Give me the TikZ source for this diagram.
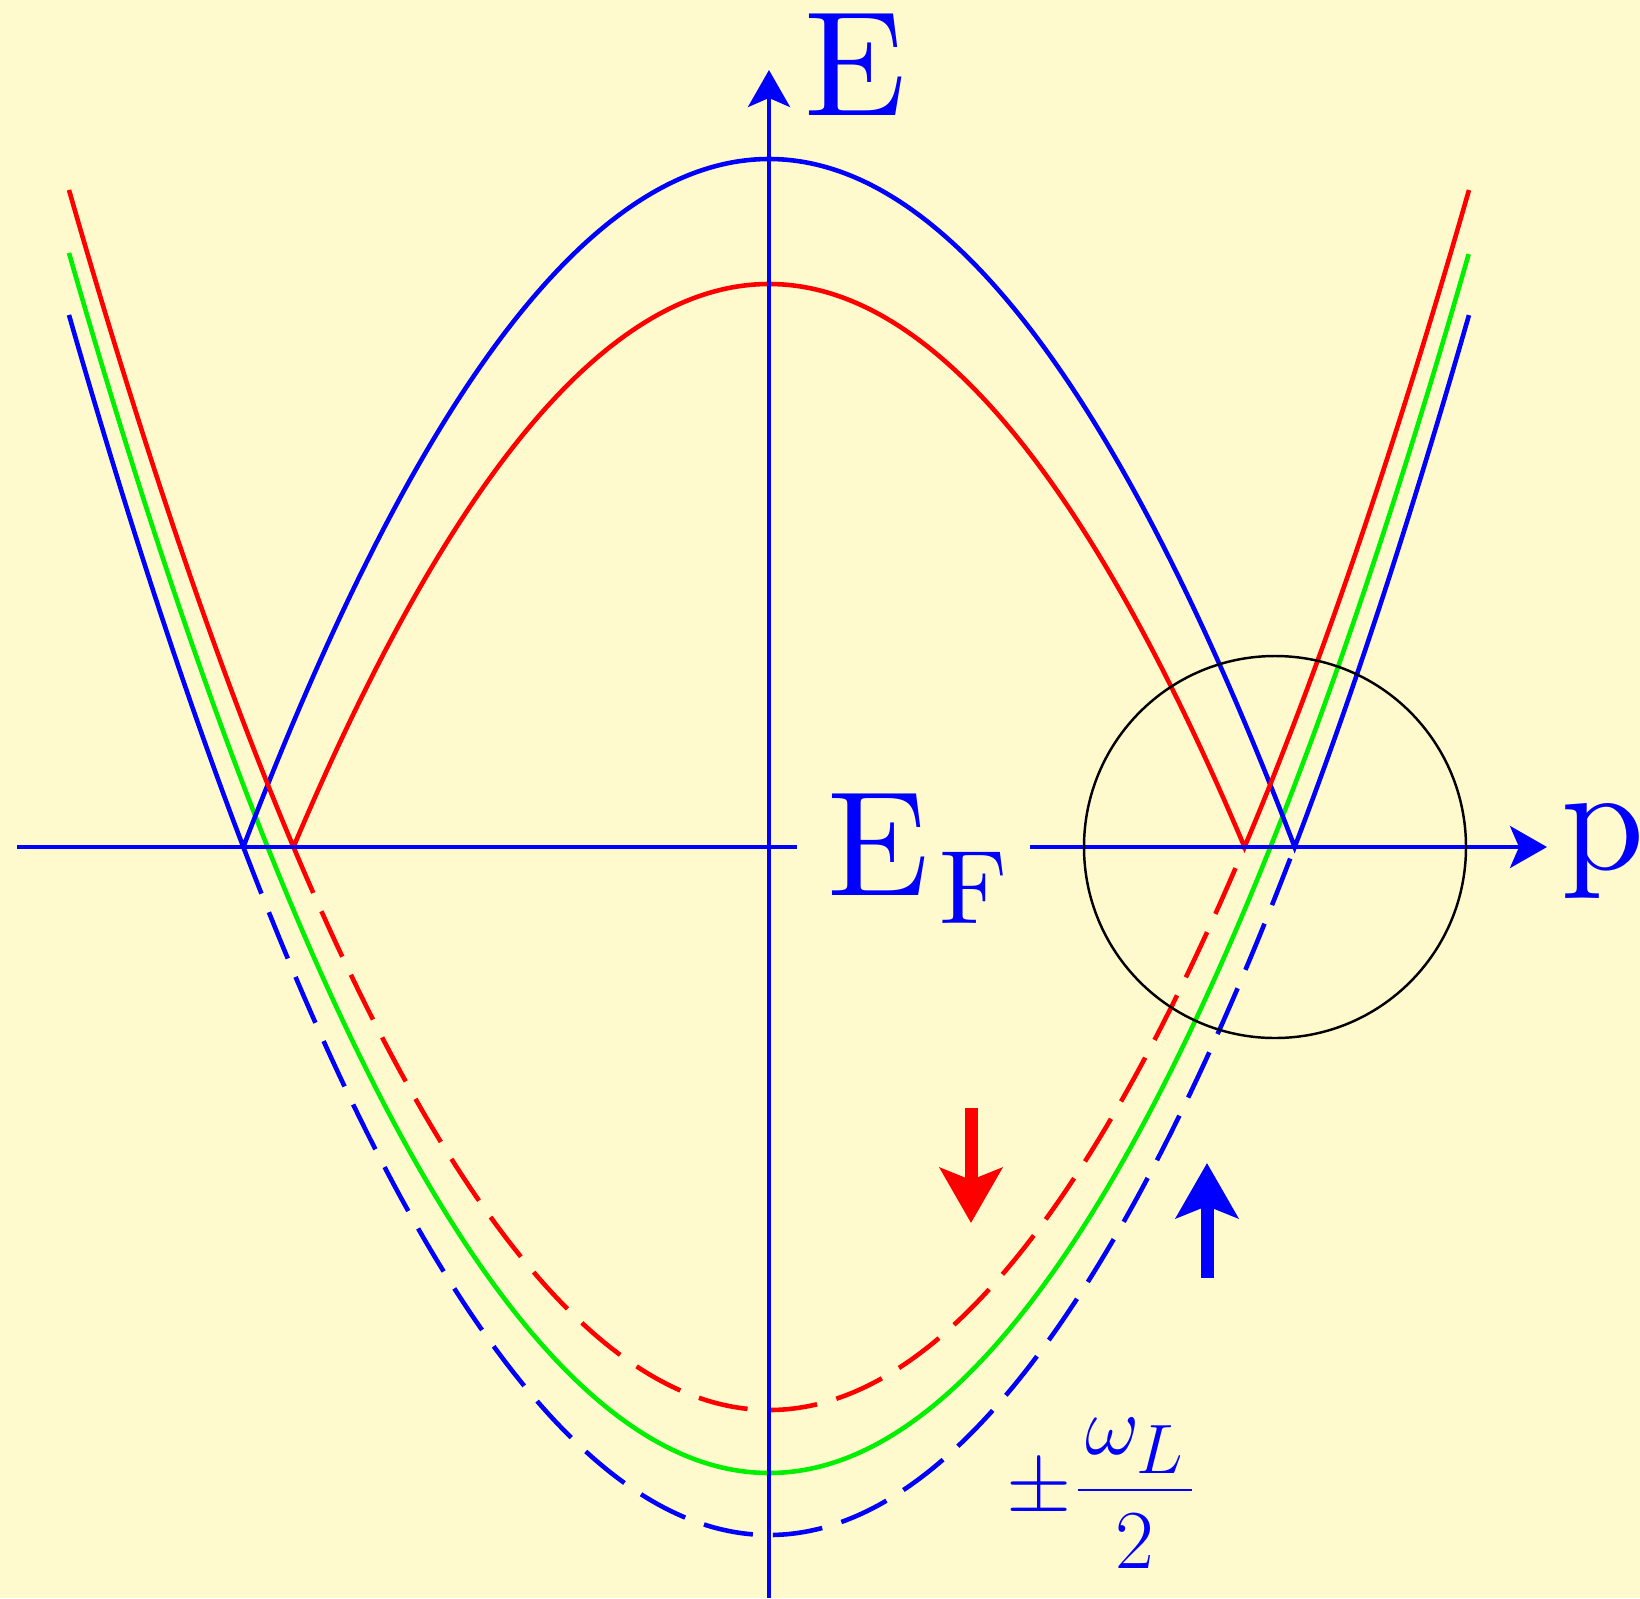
\documentclass[tikz,border=0pt]{standalone}
\usetikzlibrary{arrows.meta}
\definecolor{bg}{RGB}{255,250,205}
\definecolor{cblue}{RGB}{0,0,255}
\definecolor{cred}{RGB}{255,0,0}
\definecolor{cgreen}{RGB}{0,240,0}
\font\bigrm="[lmroman10-regular]" at 42.5pt
\font\subrm="[lmroman10-regular]" at 29.75pt
\begin{document}
\begin{tikzpicture}[
  curve/.style={line width=1.3pt},
  axisline/.style={line width=1.2pt, cblue},
  dashcurve/.style={line width=1.3pt, dash pattern=on 0.5cm off 0.2cm},
  lbl/.style={inner sep=0pt, anchor=base west, text=cblue},
  spin/.style={line width=3.7pt, -{Stealth[length=0.55cm,width=0.62cm,inset=0.12cm]}},
  axarrow/.style={-{Stealth[length=0.37cm,width=0.42cm,inset=0.09cm]}}
]
\fill[bg] (-7.69,-7.51) rectangle (8.71,8.47);
\useasboundingbox (-7.69,-7.51) rectangle (8.71,8.47);
\def\kcoef{0.249}
% green band
\draw[curve, cgreen] plot[domain=-7:7, samples=241] (\x,{\kcoef*\x*\x-6.26});
% blue band
\draw[curve, cblue] plot[domain=-7:-5.2565, samples=40] (\x,{\kcoef*\x*\x-6.88})
  -- plot[domain=-5.2565:5.2565, samples=241] (\x,{6.88-\kcoef*\x*\x})
  -- plot[domain=5.2565:7, samples=40] (\x,{\kcoef*\x*\x-6.88});
\draw[dashcurve, cblue] plot[domain=-5.2565:5.2565, samples=241] (\x,{\kcoef*\x*\x-6.88});
% red band
\draw[curve, cred] plot[domain=-7:-4.755, samples=40] (\x,{\kcoef*\x*\x-5.63})
  -- plot[domain=-4.755:4.755, samples=241] (\x,{5.63-\kcoef*\x*\x})
  -- plot[domain=4.755:7, samples=40] (\x,{\kcoef*\x*\x-5.63});
\draw[dashcurve, cred] plot[domain=-4.755:4.755, samples=241] (\x,{\kcoef*\x*\x-5.63});
% axes
\coordinate (xl) at (-7.52,0);
\coordinate (xm1) at (0.28,0);
\coordinate (xm2) at (2.61,0);
\coordinate (xr) at (7.78,0);
\coordinate (yb) at (0,-7.51);
\coordinate (yt) at (0,7.77);
\draw[axisline] (xl) -- (xm1);
\draw[axisline, axarrow] (xm2) -- (xr);
\draw[axisline, axarrow] (yb) -- (yt);
% circle
\node[draw=black, line width=0.7pt, circle, minimum size=3.82cm, inner sep=0pt] (circ) at (5.06,0) {};
% spin arrows
\coordinate (rs) at (2.02,-2.61);
\coordinate (rt) at (2.02,-3.76);
\coordinate (bs) at (4.38,-4.31);
\coordinate (bt) at (4.38,-3.16);
\draw[spin, cred] (rs) -- (rt);
\draw[spin, cblue] (bs) -- (bt);
% labels
\node[lbl] (Elab) at (0.35,7.32) {\bigrm E};
\node[lbl] (EFlab) at (0.58,-0.48) {\bigrm E\kern0.10cm\raisebox{-0.28cm}{\subrm F}};
\node[lbl] (plab) at (7.92,-0.22) {\bigrm p};
\node[lbl, font=\fontsize{24.88}{30}\selectfont] (wlab) at (2.37,-6.64) {\scalebox{0.96}{$\displaystyle\pm\mkern0.5mu\frac{\mkern1.5mu\omega_L\mkern1.5mu}{2}$}};
\end{tikzpicture}
\end{document}
